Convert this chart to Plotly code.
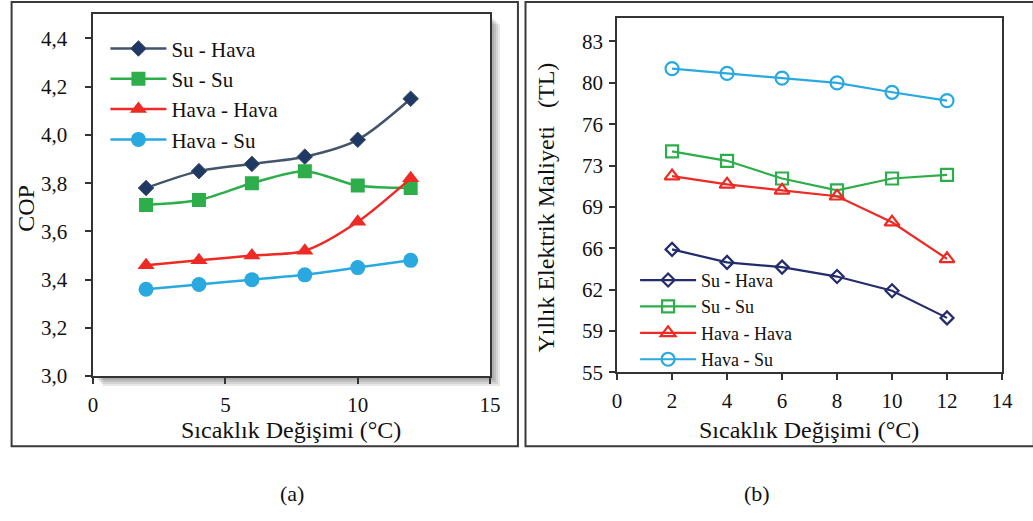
import plotly.graph_objects as go

# ---------------- data ----------------
temp_change = [2, 4, 6, 8, 10, 12]

series_names = ["Su - Hava", "Su - Su", "Hava - Hava", "Hava - Su"]

# (a) COP
cop_su_hava = [3.78, 3.85, 3.88, 3.91, 3.98, 4.15]
cop_su_su = [3.71, 3.73, 3.80, 3.85, 3.79, 3.78]
cop_hava_hava = [3.46, 3.48, 3.50, 3.52, 3.64, 3.82]
cop_hava_su = [3.36, 3.38, 3.40, 3.42, 3.45, 3.48]

# (b) Yillik elektrik maliyeti (TL)
cost_su_hava = [65.4, 64.3, 63.9, 63.1, 61.9, 59.6]
cost_su_su = [73.7, 72.9, 71.4, 70.4, 71.4, 71.7]
cost_hava_hava = [71.6, 70.9, 70.4, 69.9, 67.7, 64.6]
cost_hava_su = [80.7, 80.3, 79.9, 79.5, 78.7, 78.0]

right_y_tickvals = [55, 58.5, 62, 65.5, 69, 72.5, 76, 79.5, 83]
right_y_ticktext = ["55", "59", "62", "66", "69", "73", "76", "80", "83"]

# ---------------- layout helpers ----------------
W, H = 1033, 521
SERIF = "Liberation Serif, Times New Roman, serif"


def px(x):
    return x / W


def py(y):
    return 1 - y / H


C_NAVY_LINE = "#44546A"
C_NAVY = "#1F3864"
C_NAVY_B = "#232C6C"
C_GREEN = "#2EAD4B"
C_RED = "#EE2A24"
C_BLUE = "#29A9E0"

fig = go.Figure()

# ---------------- (a) traces ----------------
left_styles = [
    (cop_su_hava, C_NAVY_LINE, dict(symbol="diamond", size=12, color=C_NAVY, line=dict(color=C_NAVY_LINE, width=1))),
    (cop_su_su, C_GREEN, dict(symbol="square", size=14, color=C_GREEN)),
    (cop_hava_hava, C_RED, dict(symbol="triangle-up", size=15, color=C_RED)),
    (cop_hava_su, C_BLUE, dict(symbol="circle", size=15, color=C_BLUE)),
]
for name, (vals, lc, mk) in zip(series_names, left_styles):
    fig.add_trace(go.Scatter(
        x=temp_change, y=vals, name=name, mode="lines+markers",
        line=dict(color=lc, width=2.5, shape="spline", smoothing=0.8),
        marker=mk, xaxis="x", yaxis="y", legend="legend",
    ))

# ---------------- (b) traces ----------------
right_styles = [
    (cost_su_hava, C_NAVY_B, "diamond-open", 10),
    (cost_su_su, C_GREEN, "square-open", 12),
    (cost_hava_hava, C_RED, "triangle-up-open", 13),
    (cost_hava_su, C_BLUE, "circle-open", 13),
]
for name, (vals, lc, sym, sz) in zip(series_names, right_styles):
    fig.add_trace(go.Scatter(
        x=temp_change, y=vals, name=name, mode="lines+markers",
        line=dict(color=lc, width=2.2),
        marker=dict(symbol=sym, size=sz, color=lc, line=dict(color=lc, width=2.2)),
        xaxis="x2", yaxis="y2", legend="legend2",
    ))

AX_COLOR = "#333333"
tick_font = dict(family=SERIF, size=21, color="#111111")

common_axis = dict(
    showgrid=False, zeroline=False, showline=True, linecolor=AX_COLOR, linewidth=1.5,
    mirror=True, ticks="outside", ticklen=6, tickcolor=AX_COLOR, tickwidth=1.5,
    tickfont=tick_font, fixedrange=True,
)

# plot-area pixel boxes
LX0, LX1, LY0, LY1 = 89.5, 492.7, 14.7, 385.0
RX0, RX1, RY0, RY1 = 621.7, 1012.7, 18.3, 381.0

fig.update_layout(
    width=W, height=H,
    margin=dict(l=0, r=0, t=0, b=0),
    paper_bgcolor="white", plot_bgcolor="white",
    separators=",.",
    showlegend=True,
    xaxis=dict(common_axis, domain=[px(LX0), px(LX1)], range=[0, 15], dtick=5, tick0=0,
               anchor="y", ticklabelstandoff=3),
    yaxis=dict(common_axis, domain=[py(LY1), py(LY0)], range=[3.0, 4.5], dtick=0.2, tick0=3.0,
               tickformat=".1f", anchor="x", ticklabelstandoff=14),
    xaxis2=dict(common_axis, domain=[px(RX0), px(RX1)], range=[0, 14], dtick=2, tick0=0,
                anchor="y2", ticklabelstandoff=3),
    yaxis2=dict(common_axis, domain=[py(RY1), py(RY0)], range=[55, 85],
                tickmode="array", tickvals=right_y_tickvals, ticktext=right_y_ticktext,
                anchor="x2", ticklabelstandoff=2),
    legend=dict(x=px(102), y=py(29), xanchor="left", yanchor="top",
                bgcolor="rgba(0,0,0,0)", font=dict(family=SERIF, size=21, color="#111111"),
                itemwidth=56, tracegroupgap=0),
    legend2=dict(x=px(640), y=py(268), xanchor="left", yanchor="top",
                 bgcolor="rgba(0,0,0,0)", font=dict(family=SERIF, size=18, color="#111111"),
                 itemwidth=56, tracegroupgap=0),
)

shapes = []
# soft drop shadow along the right and bottom edges of the (a) plot area
for off in [2, 4, 6, 8, 10]:
    shapes.append(dict(type="rect", xref="paper", yref="paper", layer="below",
                       x0=px(LX1), x1=px(LX1 + off), y0=py(LY1 + off), y1=py(LY0 + off),
                       line=dict(width=0), fillcolor="rgba(0,0,0,0.09)"))
    shapes.append(dict(type="rect", xref="paper", yref="paper", layer="below",
                       x0=px(LX0 + off), x1=px(LX1), y0=py(LY1 + off), y1=py(LY1),
                       line=dict(width=0), fillcolor="rgba(0,0,0,0.09)"))
# outer frames
shapes.append(dict(type="rect", xref="paper", yref="paper", x0=px(6.7), x1=px(521), y0=py(456.7), y1=py(2),
                   line=dict(color="#3a3a3a", width=2)))
shapes.append(dict(type="rect", xref="paper", yref="paper", x0=px(528.7), x1=px(1045), y0=py(456.7), y1=py(2),
                   line=dict(color="#3a3a3a", width=2)))
fig.update_layout(shapes=shapes)

title_font = dict(family=SERIF, size=24, color="#111111")
annotations = [
    dict(text="Sıcaklık Değişimi (°C)", x=px(291), y=py(440), xref="paper", yref="paper",
         showarrow=False, font=title_font, xanchor="center", yanchor="middle"),
    dict(text="Sıcaklık Değişimi (°C)", x=px(817), y=py(440), xref="paper", yref="paper",
         showarrow=False, font=title_font, xanchor="center", yanchor="middle"),
    dict(text="COP", x=px(21), y=py(213), xref="paper", yref="paper", textangle=-90,
         showarrow=False, font=title_font, xanchor="center", yanchor="middle"),
    dict(text="Yıllık Elektrik Maliyeti \u00a0 (TL)", x=px(550), y=py(212), xref="paper", yref="paper",
         textangle=-90, showarrow=False, font=title_font, xanchor="center", yanchor="middle"),
    dict(text="(a)", x=px(292), y=py(505), xref="paper", yref="paper",
         showarrow=False, font=dict(family=SERIF, size=22, color="#111111"),
         xanchor="center", yanchor="middle"),
    dict(text="(b)", x=px(764), y=py(505), xref="paper", yref="paper",
         showarrow=False, font=dict(family=SERIF, size=22, color="#111111"),
         xanchor="center", yanchor="middle"),
]
fig.update_layout(annotations=annotations)

fig.write_html("out.html", config={"displayModeBar": False},
               post_script="document.body.style.margin='0px';document.body.style.overflow='hidden';")
